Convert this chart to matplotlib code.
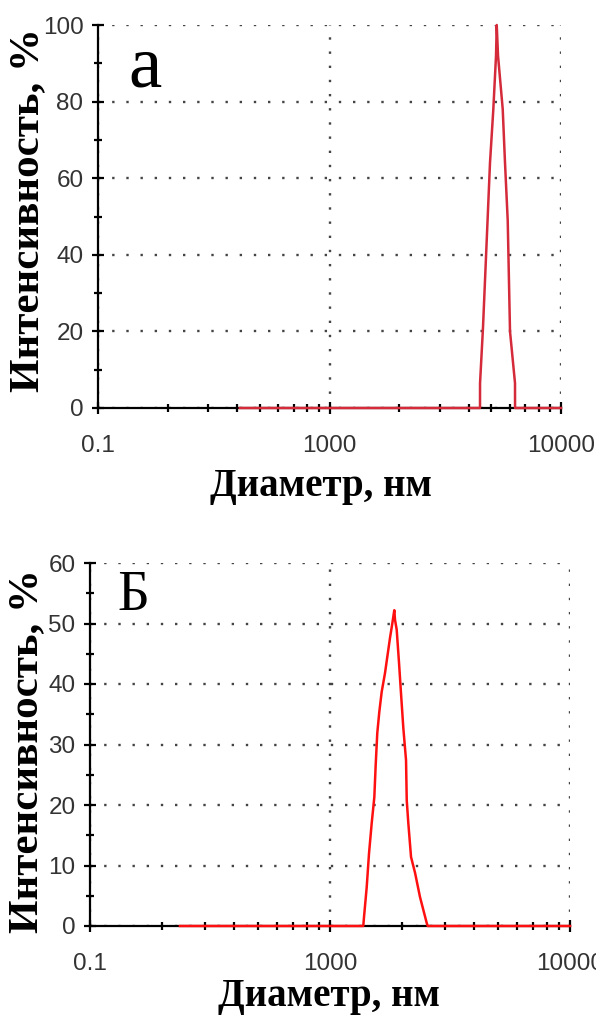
import matplotlib
matplotlib.use("Agg")
import matplotlib.pyplot as plt
from matplotlib.ticker import FixedLocator, FixedFormatter, LogLocator, NullFormatter

# panel "а"
diameter_a = [410, 4468, 4470, 4603, 4825, 4935, 5101, 5240, 5277, 5345, 5601, 5730, 5886, 6022, 6329, 6332, 10000]
intensity_a = [0, 0, 6.5, 21, 50, 64, 78, 92, 100, 92, 78, 64, 49, 20, 6.5, 0, 0]

# panel "Б"
diameter_b = [237, 1376, 1386, 1422, 1454, 1492, 1530, 1550, 1574, 1605, 1642, 1695, 1733, 1778, 1818, 1853,
              1866, 1896, 1939, 1976, 2021, 2074, 2088, 2120, 2176, 2261, 2371, 2529, 2553, 10000]
intensity_b = [0, 0, 1.5, 6.4, 12, 17, 21.3, 26.6, 31.9, 35.4, 38.7, 41.8, 44.5, 47.6, 50, 52.2,
               50.6, 49, 43.5, 38.5, 32.7, 27.4, 20.8, 17, 11.4, 8.8, 4.8, 0.5, 0, 0]

x_tick_pos = [100, 1000, 10000]
x_tick_labels = ["0.1", "1000", "10000"]

x_label = "Диаметр, нм"
y_label = "Интенсивность, %"

W, H = 596, 1016
fig = plt.figure(figsize=(W / 100, H / 100), dpi=100)

tick_font = {"family": "Liberation Sans", "size": 17.5, "color": "#333333"}


def panel(rect, xs, ys, ymax, ystep, color, letter, letter_pos, letter_size):
    ax = fig.add_axes(rect)
    ax.plot(xs, ys, color=color, lw=1.8, zorder=5, clip_on=False)
    ax.set_xscale("log")
    ax.set_xlim(100, 10000)
    ax.set_ylim(0, ymax)
    ax.xaxis.set_major_locator(FixedLocator(x_tick_pos))
    ax.xaxis.set_major_formatter(FixedFormatter(x_tick_labels))
    ax.xaxis.set_minor_locator(LogLocator(base=10, subs=range(2, 10)))
    ax.xaxis.set_minor_formatter(NullFormatter())
    ax.set_yticks(range(0, ymax + 1, ystep))
    ax.set_yticks(range(ystep // 2, ymax, ystep), minor=True)
    for s in ["top", "right"]:
        ax.spines[s].set_visible(False)
    for s in ["left", "bottom"]:
        ax.spines[s].set_linewidth(1.6)
    ax.grid(True, which="major", color="#444444", linestyle=(0, (1, 5)), lw=1.7)
    ax.tick_params(which="major", direction="inout", length=9, width=1.6)
    ax.tick_params(which="minor", direction="inout", length=6, width=1.6)
    ax.tick_params(axis="x", which="major", pad=15)
    ax.tick_params(axis="y", pad=6)
    for t in ax.get_xticklabels() + ax.get_yticklabels():
        t.set_fontfamily(tick_font["family"])
        t.set_fontsize(tick_font["size"])
        t.set_color(tick_font["color"])
    ax.text(letter_pos[0], letter_pos[1], letter, transform=ax.transAxes,
            family="Liberation Serif", fontsize=letter_size, va="top", ha="left")
    return ax


panel([98 / W, 1 - 408 / H, 463 / W, 383 / H], diameter_a, intensity_a, 100, 20,
      "#d42a3a", "а", (0.065, 0.975), 54)
panel([90 / W, 1 - 926 / H, 480 / W, 363 / H], diameter_b, intensity_b, 60, 10,
      "#ff1010", "Б", (0.058, 0.98), 40)

fig.text(28 / W, 1 - 210 / H, y_label, rotation=90, ha="center", va="center",
         family="Liberation Serif", weight="bold", size=31)
fig.text(27 / W, 1 - 751 / H, y_label, rotation=90, ha="center", va="center",
         family="Liberation Serif", weight="bold", size=31)
fig.text(321 / W, 1 - 496 / H, x_label, ha="center", va="baseline",
         family="Liberation Serif", weight="bold", size=28)
fig.text(329 / W, 1 - 1006 / H, x_label, ha="center", va="baseline",
         family="Liberation Serif", weight="bold", size=28)

fig.savefig("out.png", dpi=100, facecolor="white")
